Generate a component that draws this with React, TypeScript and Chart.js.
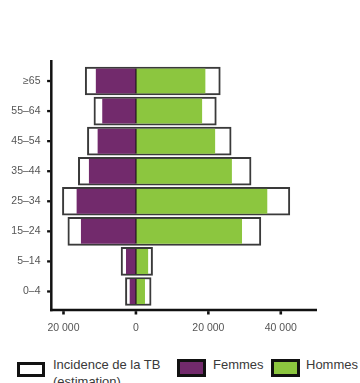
import React, { useEffect, useRef } from "react";
import { Chart, registerables } from "chart.js";

Chart.register(...registerables);

// ---- Data ----
const ageGroups = ["≥65", "55–64", "45–54", "35–44", "25–34", "15–24", "5–14", "0–4"];
const femmesNotified = [11100, 9300, 10600, 13000, 16400, 15200, 2750, 1750];
const hommesNotified = [19200, 18300, 21900, 26500, 36300, 29300, 3400, 2500];
const incidenceFemmes = [14000, 11600, 13400, 15900, 20300, 18800, 4100, 2900];
const incidenceHommes = [23300, 22200, 26300, 31800, 42500, 34500, 4600, 4200];
const xTickValues = [-20000, 0, 20000, 40000];
const xMin = -23450;
const xMax = 50000;

const seriesIncidence = "Incidence de la TB (estimation)";
const seriesFemmes = "Femmes";
const seriesHommes = "Hommes";

const PURPLE = "#722A6C";
const GREEN = "#8CC63F";
const FONT = "'Liberation Sans', Arial, Helvetica, sans-serif";

const fmt = (v: number) => {
  const a = Math.abs(v);
  return a.toString().replace(/\B(?=(\d{3})+(?!\d))/g, " ");
};

const axisPlugin = {
  id: "customAxes",
  afterDraw(chart: any) {
    const { ctx, chartArea, scales } = chart;
    const xs = scales.x;
    const ys = scales.y;
    const ax = chartArea.left + 0.3;
    const ay = chartArea.bottom + 3.5;
    ctx.save();
    ctx.strokeStyle = "#111";
    ctx.lineCap = "butt";
    // y axis line
    ctx.lineWidth = 2.5;
    ctx.beginPath();
    ctx.moveTo(ax, chartArea.top - 6);
    ctx.lineTo(ax, ay + 1.25);
    ctx.stroke();
    // x axis line
    ctx.beginPath();
    ctx.moveTo(ax - 1.25, ay);
    ctx.lineTo(chartArea.right, ay);
    ctx.stroke();
    // y tick marks
    ctx.lineWidth = 2.3;
    ageGroups.forEach((_, i) => {
      const py = ys.getPixelForValue(i);
      ctx.beginPath();
      ctx.moveTo(ax - 4.2, py);
      ctx.lineTo(ax - 1.2, py);
      ctx.stroke();
    });
    // x tick marks
    ctx.lineWidth = 2.6;
    xTickValues.forEach((v) => {
      const px = xs.getPixelForValue(v);
      ctx.beginPath();
      ctx.moveTo(px, ay + 1.2);
      ctx.lineTo(px, ay + 4.5);
      ctx.stroke();
    });
    ctx.restore();
  },
};

export default function App() {
  const canvasRef = useRef<HTMLCanvasElement | null>(null);

  useEffect(() => {
    if (!canvasRef.current) return;
    const chart = new Chart(canvasRef.current, {
      type: "bar",
      data: {
        labels: ageGroups,
        datasets: [
          {
            label: seriesFemmes,
            data: femmesNotified.map((v) => -v),
            backgroundColor: PURPLE,
            borderColor: "#2b1a2a",
            borderWidth: { left: 0, right: 1, top: 0, bottom: 0 } as any,
            borderSkipped: false,
            barThickness: 25,
            grouped: false,
            order: 1,
          },
          {
            label: seriesHommes,
            data: hommesNotified,
            backgroundColor: GREEN,
            borderColor: "#2b2b1a",
            borderWidth: { left: 1, right: 0, top: 0, bottom: 0 } as any,
            borderSkipped: false,
            barThickness: 25,
            grouped: false,
            order: 1,
          },
          {
            label: seriesIncidence,
            data: incidenceFemmes.map((f, i) => [-f, incidenceHommes[i]]) as any,
            backgroundColor: "#ffffff",
            borderColor: "#3a3a3a",
            borderWidth: 2,
            borderSkipped: false,
            barThickness: 28,
            grouped: false,
            order: 2,
          },
        ],
      },
      options: {
        indexAxis: "y",
        responsive: false,
        maintainAspectRatio: false,
        animation: false,
        layout: { padding: { top: 66, right: 43, left: 0, bottom: 0 } },
        plugins: {
          legend: { display: false },
          tooltip: { enabled: false },
        },
        scales: {
          x: {
            type: "linear",
            min: xMin,
            max: xMax,
            grid: { display: false, drawTicks: false },
            border: { display: false },
            afterBuildTicks: (s: any) => {
              s.ticks = xTickValues.map((v) => ({ value: v }));
            },
            afterFit: (s: any) => {
              s.height = 38.5;
            },
            ticks: {
              callback: (v: any) => fmt(Number(v)),
              font: { family: FONT, size: 10.5 },
              color: "#555",
              padding: 15,
              maxRotation: 0,
              autoSkip: false,
            },
          },
          y: {
            type: "category",
            grid: { display: false, drawTicks: false },
            border: { display: false },
            afterFit: (s: any) => {
              s.width = 51;
            },
            ticks: {
              font: { family: FONT, size: 10.5 },
              color: "#555",
              padding: 10.5,
              autoSkip: false,
            },
          },
        },
      },
      plugins: [axisPlugin],
    } as any);
    return () => chart.destroy();
  }, []);

  const textStyle: React.CSSProperties = {
    position: "absolute",
    fontSize: 13,
    lineHeight: "17px",
    color: "#3a3a3a",
    fontFamily: FONT,
    whiteSpace: "nowrap",
  };
  const boxBase: React.CSSProperties = {
    position: "absolute",
    boxSizing: "border-box",
    border: "3px solid #111",
  };

  return (
    <div
      style={{
        position: "absolute",
        left: 0,
        top: 0,
        width: 360,
        height: 383,
        overflow: "hidden",
        background: "#fff",
        fontFamily: FONT,
      }}
    >
      <canvas ref={canvasRef} width={360} height={345} style={{ display: "block", width: 360, height: 345 }} />
      <div style={{ ...boxBase, left: 17, top: 362, width: 28, height: 15, background: "#fff" }} />
      <div style={{ ...textStyle, left: 53, top: 355.5 }}>
        Incidence de la TB
        <br />
        (estimation)
      </div>
      <div style={{ ...boxBase, left: 177, top: 359, width: 29, height: 18, background: PURPLE }} />
      <div style={{ ...textStyle, left: 213, top: 355.5 }}>{seriesFemmes}</div>
      <div style={{ ...boxBase, left: 271, top: 359, width: 29, height: 18, background: GREEN }} />
      <div style={{ ...textStyle, left: 306, top: 355.5 }}>{seriesHommes}</div>
    </div>
  );
}
